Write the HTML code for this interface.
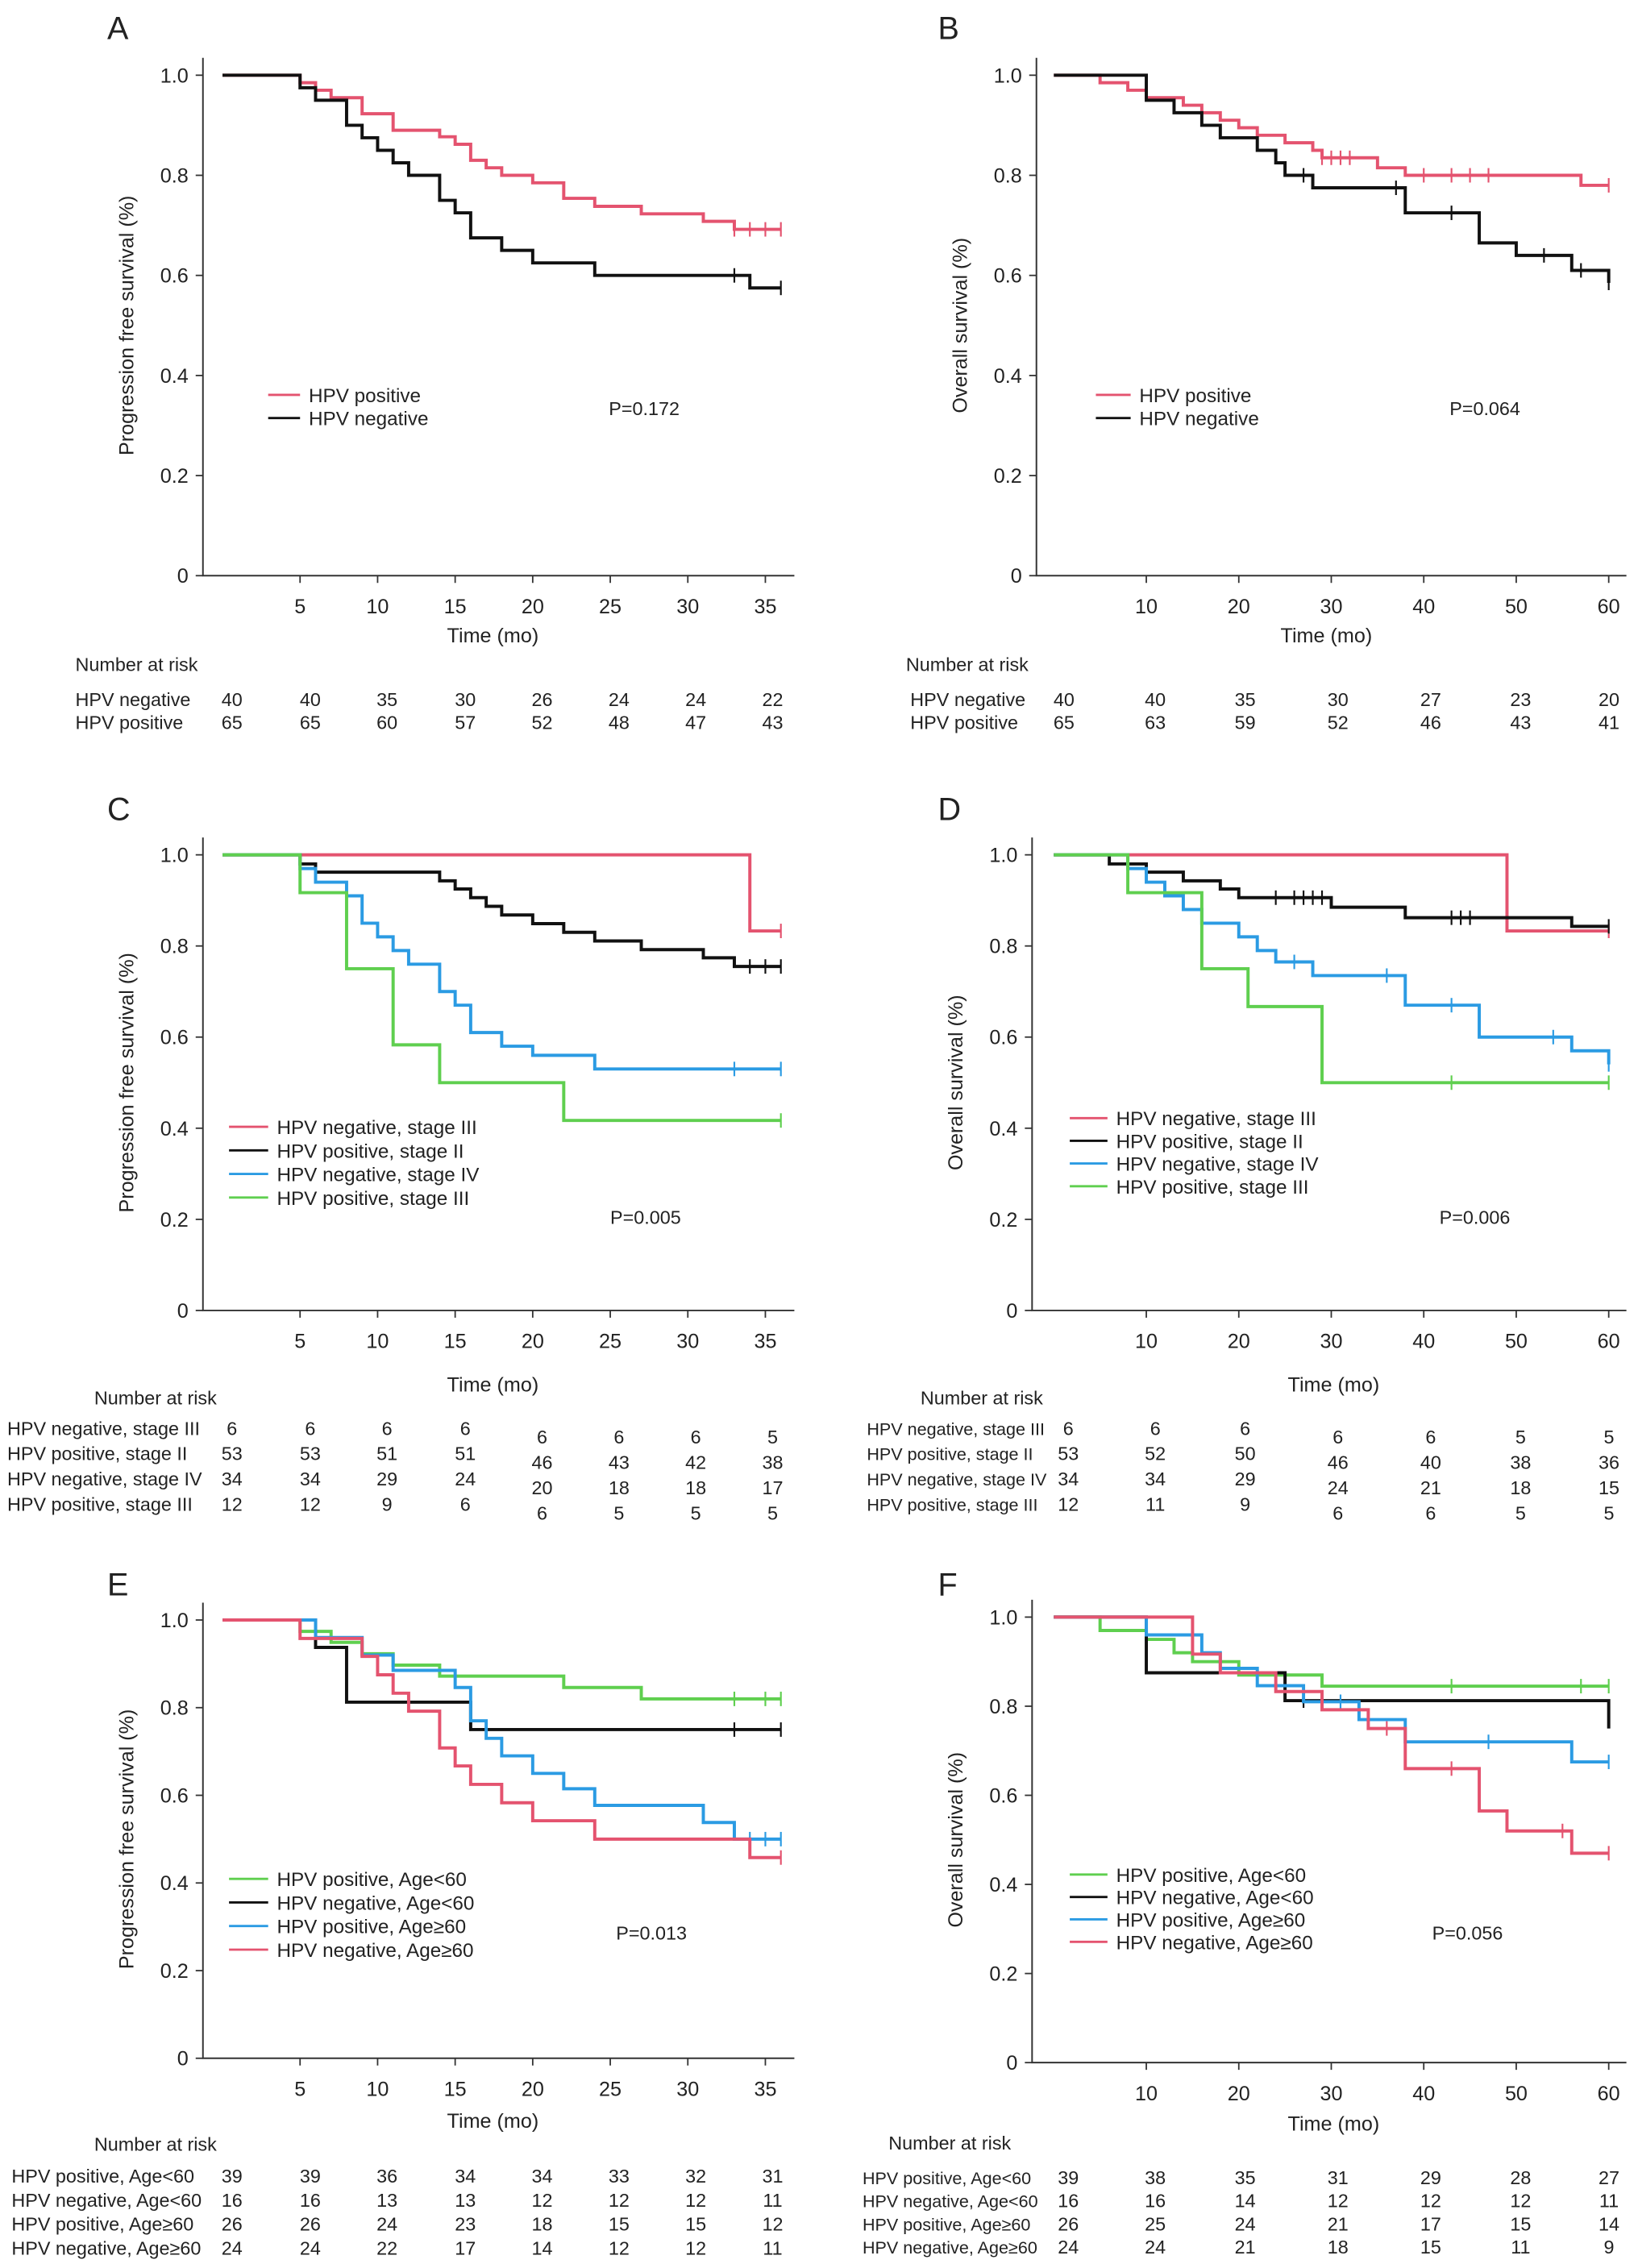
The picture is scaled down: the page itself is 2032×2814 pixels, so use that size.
<!DOCTYPE html>
<html><head><meta charset="utf-8"><style>
html,body{margin:0;padding:0;background:#fff}
svg{display:block}
text{font-family:"Liberation Sans",Arial,sans-serif;fill:#222}
</style></head><body>
<svg id="fig" width="2032" height="2814" viewBox="0 0 1130 1568" preserveAspectRatio="none" xmlns="http://www.w3.org/2000/svg"></svg>
<script>
// ---------- Data ----------
const aPosT=[5,6,7,9,11,14,15,16,17,18,20,22,24,27,31,33];
const aPosS=[0.985,0.97,0.955,0.923,0.89,0.877,0.862,0.83,0.815,0.8,0.785,0.754,0.738,0.723,0.708,0.692];
const aPosC=[33,34,35,36];
const aNegT=[5,6,8,9,10,11,12,14,15,16,18,20,24,34];
const aNegS=[0.975,0.95,0.9,0.875,0.85,0.825,0.8,0.75,0.725,0.675,0.65,0.625,0.6,0.575];
const aNegC=[33,36];

const bPosT=[5,8,10,14,16,18,20,22,25,28,29,35,38,57];
const bPosS=[0.985,0.97,0.955,0.94,0.925,0.91,0.895,0.88,0.865,0.85,0.835,0.815,0.8,0.78];
const bPosC=[29,30,31,32,40,43,45,47,60];
const bNegT=[10,13,16,18,22,24,25,28,38,46,50,56,60];
const bNegS=[0.95,0.925,0.9,0.875,0.85,0.825,0.8,0.775,0.725,0.665,0.64,0.61,0.585];
const bNegC=[27,37,43,53,57,60];

const cPinkT=[34], cPinkS=[0.833], cPinkC=[36];
const cBlackT=[5,6,14,15,16,17,18,20,22,24,27,31,33];
const cBlackS=[0.98,0.962,0.943,0.925,0.906,0.887,0.868,0.849,0.83,0.811,0.792,0.774,0.755];
const cBlackC=[34,35,36];
const cBlueT=[5,6,8,9,10,11,12,14,15,16,18,20,24];
const cBlueS=[0.97,0.94,0.91,0.85,0.82,0.79,0.76,0.7,0.67,0.61,0.58,0.56,0.53];
const cBlueC=[33,36];
const cGreenT=[5,8,11,14,22], cGreenS=[0.917,0.75,0.583,0.5,0.417], cGreenC=[36];

const dPinkT=[49], dPinkS=[0.833], dPinkC=[60];
const dBlackT=[6,10,14,18,20,30,38,56];
const dBlackS=[0.98,0.962,0.943,0.925,0.906,0.885,0.862,0.843];
const dBlackC=[24,26,27,28,29,43,44,45,60];
const dBlueT=[8,10,12,14,16,20,22,24,28,38,46,56,60];
const dBlueS=[0.97,0.94,0.91,0.88,0.85,0.82,0.79,0.765,0.735,0.67,0.6,0.57,0.54];
const dBlueC=[26,36,43,54,60];
const dGreenT=[8,16,21,29], dGreenS=[0.917,0.75,0.667,0.5], dGreenC=[43,60];

const eGreenT=[5,7,9,11,14,22,27], eGreenS=[0.974,0.949,0.923,0.897,0.872,0.846,0.82], eGreenC=[33,35,36];
const eBlackT=[6,8,16], eBlackS=[0.9375,0.8125,0.75], eBlackC=[33,36];
const eBlueT=[6,9,11,15,16,17,18,20,22,24,31,33];
const eBlueS=[0.96,0.92,0.885,0.846,0.77,0.73,0.69,0.65,0.615,0.577,0.538,0.5];
const eBlueC=[34,35,36];
const eRedT=[5,9,10,11,12,14,15,16,18,20,24,34];
const eRedS=[0.958,0.917,0.875,0.833,0.792,0.708,0.667,0.625,0.583,0.542,0.5,0.458];
const eRedC=[36];

const fGreenT=[5,10,13,15,20,29], fGreenS=[0.97,0.95,0.92,0.9,0.87,0.845], fGreenC=[43,57,60];
const fBlackT=[10,25,60], fBlackS=[0.875,0.8125,0.75], fBlackC=[27];
const fBlueT=[10,16,18,22,27,33,38,56], fBlueS=[0.96,0.92,0.885,0.846,0.81,0.77,0.72,0.675], fBlueC=[31,47,60];
const fRedT=[15,18,24,29,34,38,46,49,56], fRedS=[0.917,0.875,0.833,0.792,0.75,0.66,0.565,0.52,0.47], fRedC=[36,43,55,60];

const ticks36=[5,10,15,20,25,30,35], ticks60=[10,20,30,40,50,60];
const yTicks=[0,0.2,0.4,0.6,0.8,1.0], yTickLabels=["0","0.2","0.4","0.6","0.8","1.0"];

const riskA=[["HPV negative",[40,40,35,30,26,24,24,22]],["HPV positive",[65,65,60,57,52,48,47,43]]];
const riskB=[["HPV negative",[40,40,35,30,27,23,20]],["HPV positive",[65,63,59,52,46,43,41]]];
const riskC=[["HPV negative, stage III",[6,6,6,6,6,6,6,5]],["HPV positive, stage II",[53,53,51,51,46,43,42,38]],["HPV negative, stage IV",[34,34,29,24,20,18,18,17]],["HPV positive, stage III",[12,12,9,6,6,5,5,5]]];
const riskD=[["HPV negative, stage III",[6,6,6,6,6,5,5]],["HPV positive, stage II",[53,52,50,46,40,38,36]],["HPV negative, stage IV",[34,34,29,24,21,18,15]],["HPV positive, stage III",[12,11,9,6,6,5,5]]];
const riskE=[["HPV positive, Age<60",[39,39,36,34,34,33,32,31]],["HPV negative, Age<60",[16,16,13,13,12,12,12,11]],["HPV positive, Age≥60",[26,26,24,23,18,15,15,12]],["HPV negative, Age≥60",[24,24,22,17,14,12,12,11]]];
const riskF=[["HPV positive, Age<60",[39,38,35,31,29,28,27]],["HPV negative, Age<60",[16,16,14,12,12,12,11]],["HPV positive, Age≥60",[26,25,24,21,17,15,14]],["HPV negative, Age≥60",[24,24,21,18,15,11,9]]];

// ---------- Drawing ----------
const NS="http://www.w3.org/2000/svg";
const svg=document.getElementById('fig');
const PINK="#e4536f",BLACK="#111",BLUE="#2b9be3",GREEN="#5fcf4f";
function mk(tag,at,parent){const e=document.createElementNS(NS,tag);for(const k in at)e.setAttribute(k,at[k]);(parent||svg).appendChild(e);return e;}
function txt(s,x,y,size,anchor,parent){const t=mk('text',{x:x,y:y,'font-size':size,'text-anchor':anchor||'start'},parent);t.textContent=s;return t;}

function panel(o){
  const g=mk('g',{});
  
  
  const X=t=>o.x0+(t-o.t0)*o.kx;
  const Y=s=>o.yb-(o.yb-o.yt)*s;
  const L=txt(o.id,o.lx,o.ly,22,'start',g);
  
  
  const ax=mk('path',{d:`M${o.ax},${o.yt-12} V${o.yb} H${o.xend}`,stroke:'#333','stroke-width':1.1,fill:'none'},g);
  
  
  yTicks.forEach((v,i)=>{
    mk('line',{x1:o.ax-5,x2:o.ax,y1:Y(v),y2:Y(v),stroke:'#333','stroke-width':1},g);
    const t=txt(yTickLabels[i],o.ax-10,Y(v)+5,14,'end',g);
    
    
  });
  o.xt.forEach(v=>{
    mk('line',{x1:X(v),x2:X(v),y1:o.yb,y2:o.yb+5,stroke:'#333','stroke-width':1},g);
    const t=txt(String(v),X(v),o.yb+26,14,'middle',g);
    
    
  });
  const xt=txt('Time (mo)',o.tx,o.ty,14,'middle',g);
  
  
  const yt=txt(o.ytitle,0,0,14,'middle',g);
  yt.setAttribute('transform',`translate(${o.ax-48},${(o.yt+o.yb)/2}) rotate(-90)`);
  
  
  o.series.forEach(sr=>{
    let d=`M${X(0)},${Y(1)}`;
    sr.t.forEach((t,i)=>{d+=` H${X(t)} V${Y(sr.s[i])}`;});
    d+=` H${X(o.tend)}`;
    const p=mk('path',{d:d,stroke:sr.c,'stroke-width':2.2,fill:'none'},g);
    
    
    sr.cz.forEach(ct=>{
      let s=1;sr.t.forEach((t,i)=>{if(t<=ct)s=sr.s[i];});
      const m=mk('line',{x1:X(ct),x2:X(ct),y1:Y(s)-5,y2:Y(s)+5,stroke:sr.c,'stroke-width':1.2},g);
      
      
    });
  });
  o.series.forEach((sr,i)=>{
    const ly=o.legY+i*o.legDy;
    const lg=mk('g',{},g);
    
    
    mk('line',{x1:o.legX,x2:o.legX+o.legW,y1:ly,y2:ly,stroke:sr.c,'stroke-width':1.6},lg);
    txt(sr.label,o.legX+o.legW+6,ly+5,13.5,'start',lg);
  });
  const pv=txt(o.p,o.px,o.py,13,'start',g);
  
  
  const nr=txt('Number at risk',o.nrx,o.nry,13,'start',g);
  
  
  o.risk.forEach((row,i)=>{
    const ry=o.ry0+i*o.rdy;
    const rl=txt(row[0],o.rlx,ry,o.rlfs||13,'start',g);
    
    
    row[1].forEach((v,j)=>{
      const off=(o.rshift&&j>=o.rshift)?6:0;
      const c=txt(String(v),o.rcols[j],ry+off,13,'middle',g);
      
      
    });
  });
}
const colsL=[160,214,267,321,374,427,480,533];
const colsR=[734,797,859,923,987,1049,1110];
const colsR2=[737,797,859,923,987,1049,1110];
const kL=53.5/5, kR=63.8/10;

panel({id:'A',lx:74,ly:27,ax:140,yt:52,yb:398,x0:153.5,t0:0,kx:kL,xend:548,tend:36,xt:ticks36,tx:340,ty:444,
 ytitle:'Progression free survival (%)',
 series:[{n:'hpv-positive',label:'HPV positive',t:aPosT,s:aPosS,cz:aPosC,c:PINK},{n:'hpv-negative',label:'HPV negative',t:aNegT,s:aNegS,cz:aNegC,c:BLACK}],
 legX:185,legY:273,legDy:16,legW:22,p:'P=0.172',px:420,py:287,
 nrx:52,nry:464,risk:riskA,ry0:488,rdy:16,rlx:52,rcols:colsL});
panel({id:'B',lx:647,ly:27,ax:715,yt:52,yb:398,x0:727,t0:0,kx:kR,xend:1122,tend:60,xt:ticks60,tx:915,ty:444,
 ytitle:'Overall survival (%)',
 series:[{n:'hpv-positive',label:'HPV positive',t:bPosT,s:bPosS,cz:bPosC,c:PINK},{n:'hpv-negative',label:'HPV negative',t:bNegT,s:bNegS,cz:bNegC,c:BLACK}],
 legX:756,legY:273,legDy:16,legW:24,p:'P=0.064',px:1000,py:287,
 nrx:625,nry:464,risk:riskB,ry0:488,rdy:16,rlx:628,rcols:colsR});
panel({id:'C',lx:74,ly:567,ax:140,yt:591,yb:906,x0:153.5,t0:0,kx:kL,xend:548,tend:36,xt:ticks36,tx:340,ty:962,
 ytitle:'Progression free survival (%)',
 series:[{n:'neg-stage3',label:'HPV negative, stage III',t:cPinkT,s:cPinkS,cz:cPinkC,c:PINK},{n:'pos-stage2',label:'HPV positive, stage II',t:cBlackT,s:cBlackS,cz:cBlackC,c:BLACK},{n:'neg-stage4',label:'HPV negative, stage IV',t:cBlueT,s:cBlueS,cz:cBlueC,c:BLUE},{n:'pos-stage3',label:'HPV positive, stage III',t:cGreenT,s:cGreenS,cz:cGreenC,c:GREEN}],
 legX:158,legY:779,legDy:16.3,legW:27,p:'P=0.005',px:421,py:846,
 nrx:65,nry:971,risk:riskC,ry0:992,rdy:17.5,rlx:5,rcols:colsL,rshift:4});
panel({id:'D',lx:647,ly:567,ax:712,yt:591,yb:906,x0:727,t0:0,kx:kR,xend:1122,tend:60,xt:ticks60,tx:920,ty:962,
 ytitle:'Overall survival (%)',
 series:[{n:'neg-stage3',label:'HPV negative, stage III',t:dPinkT,s:dPinkS,cz:dPinkC,c:PINK},{n:'pos-stage2',label:'HPV positive, stage II',t:dBlackT,s:dBlackS,cz:dBlackC,c:BLACK},{n:'neg-stage4',label:'HPV negative, stage IV',t:dBlueT,s:dBlueS,cz:dBlueC,c:BLUE},{n:'pos-stage3',label:'HPV positive, stage III',t:dGreenT,s:dGreenS,cz:dGreenC,c:GREEN}],
 legX:738,legY:773,legDy:15.7,legW:26,p:'P=0.006',px:993,py:846,
 nrx:635,nry:971,risk:riskD,ry0:992,rdy:17.5,rlx:598,rlfs:12,rcols:colsR2,rshift:3});
panel({id:'E',lx:74,ly:1103,ax:140,yt:1120,yb:1423,x0:153.5,t0:0,kx:kL,xend:548,tend:36,xt:ticks36,tx:340,ty:1471,
 ytitle:'Progression free survival (%)',
 series:[{n:'pos-age-lt60',label:'HPV positive, Age<60',t:eGreenT,s:eGreenS,cz:eGreenC,c:GREEN},{n:'neg-age-lt60',label:'HPV negative, Age<60',t:eBlackT,s:eBlackS,cz:eBlackC,c:BLACK},{n:'pos-age-ge60',label:'HPV positive, Age≥60',t:eBlueT,s:eBlueS,cz:eBlueC,c:BLUE},{n:'neg-age-ge60',label:'HPV negative, Age≥60',t:eRedT,s:eRedS,cz:eRedC,c:PINK}],
 legX:158,legY:1299,legDy:16.3,legW:27,p:'P=0.013',px:425,py:1341,
 nrx:65,nry:1487,risk:riskE,ry0:1509,rdy:16.6,rlx:8,rcols:colsL});
panel({id:'F',lx:647,ly:1103,ax:712,yt:1118,yb:1426,x0:727,t0:0,kx:kR,xend:1122,tend:60,xt:ticks60,tx:920,ty:1473,
 ytitle:'Overall survival (%)',
 series:[{n:'pos-age-lt60',label:'HPV positive, Age<60',t:fGreenT,s:fGreenS,cz:fGreenC,c:GREEN},{n:'neg-age-lt60',label:'HPV negative, Age<60',t:fBlackT,s:fBlackS,cz:fBlackC,c:BLACK},{n:'pos-age-ge60',label:'HPV positive, Age≥60',t:fBlueT,s:fBlueS,cz:fBlueC,c:BLUE},{n:'neg-age-ge60',label:'HPV negative, Age≥60',t:fRedT,s:fRedS,cz:fRedC,c:PINK}],
 legX:738,legY:1296,legDy:15.5,legW:26,p:'P=0.056',px:988,py:1341,
 nrx:613,nry:1486,risk:riskF,ry0:1510,rdy:16,rlx:595,rlfs:12,rcols:colsR2});
</script>
</body></html>
